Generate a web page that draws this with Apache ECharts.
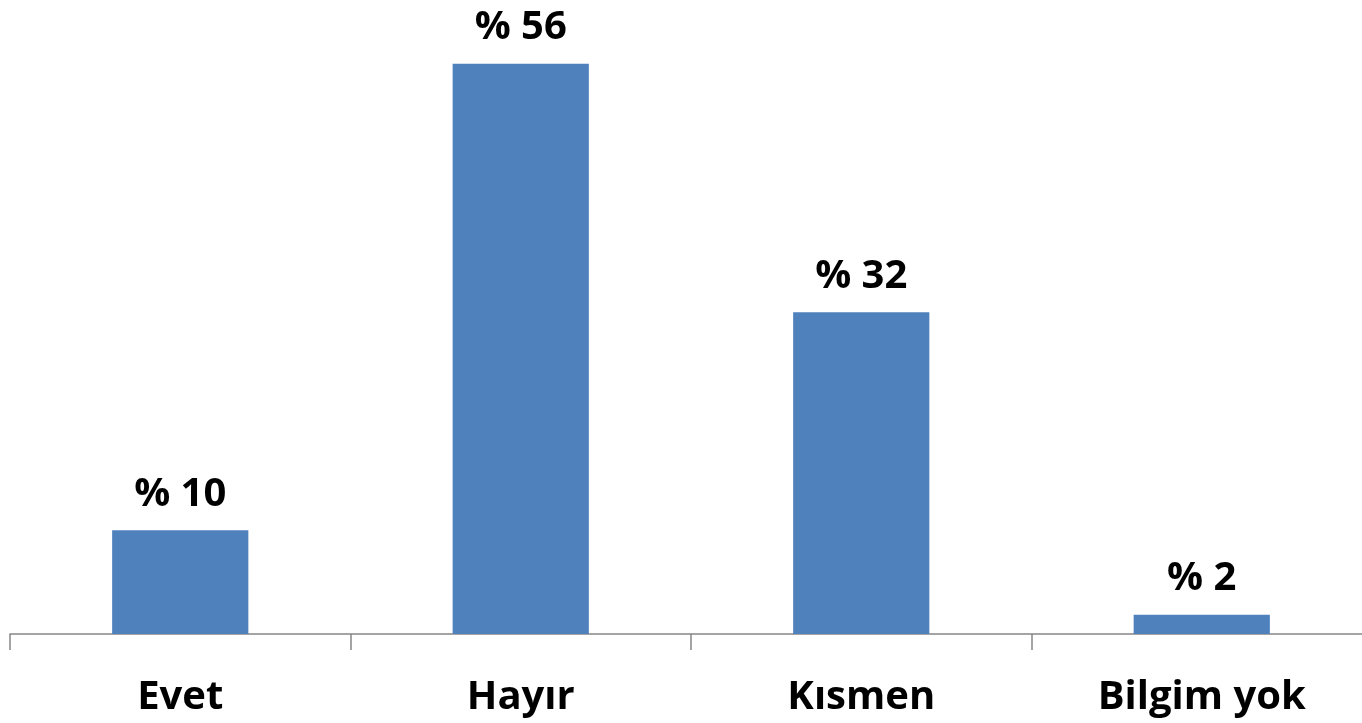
<!DOCTYPE html>
<html><head><meta charset="utf-8">
<script src="https://cdn.jsdelivr.net/npm/echarts@6/dist/echarts.min.js"></script>
<style>html,body{margin:0;padding:0;background:#fff}#c{width:1362px;height:723px}</style>
</head><body><div id="c"></div>
<script>
const categories = ['Evet', 'Hayır', 'Kısmen', 'Bilgim yok'];
const values = [10.2, 56, 31.6, 1.9];
const labelValues = [10, 56, 32, 2];

const chart = echarts.init(document.getElementById('c'), null, {renderer: 'canvas'});
chart.setOption({
  animation: false,
  grid: {left: 10, right: -10, top: 23, bottom: 89, containLabel: false, outerBoundsMode: 'none'},
  xAxis: {
    type: 'category',
    data: categories,
    axisLine: {lineStyle: {color: '#868686', width: 1.5}},
    axisTick: {show: true, length: 16, lineStyle: {color: '#868686', width: 1.5}},
    axisLabel: {margin: 44, color: '#000', fontFamily: 'Open Sans', fontWeight: 'bold', fontSize: 40}
  },
  yAxis: {type: 'value', min: 0, max: 60, show: false, splitLine: {show: false}},
  series: [{
    type: 'bar',
    data: values,
    barWidth: '40%',
    itemStyle: {color: '#4F81BD'},
    label: {
      show: true, position: 'top', distance: 16,
      color: '#000', fontFamily: 'Open Sans', fontWeight: 'bold', fontSize: 40,
      formatter: p => '% ' + labelValues[p.dataIndex]
    }
  }]
});
</script></body></html>
